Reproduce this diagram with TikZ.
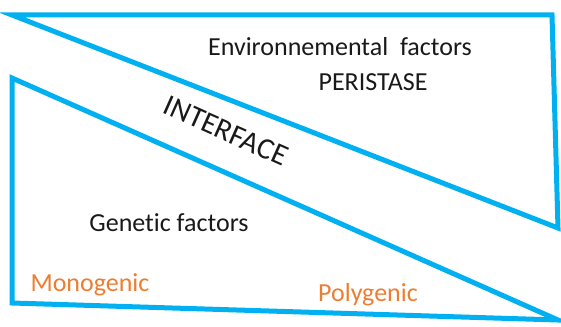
\documentclass[tikz,border=0pt]{standalone}
\usepackage{fontspec}
\setmainfont{Carlito}[Ligatures=NoCommon]
\definecolor{frameblue}{RGB}{0,176,240}
\definecolor{labelorange}{RGB}{237,125,49}

\begin{document}
\begin{tikzpicture}[x=1pt, y=-1pt,
    frame/.style={draw=frameblue, line width=5pt},
    label/.style={font=\fontsize{26}{28}\selectfont, text=black!90, inner sep=0pt, anchor=base},
    kind/.style={label, text=labelorange}]
  \useasboundingbox (0,0) rectangle (561,326);
  \coordinate (e1) at (12,15);
  \coordinate (e2) at (552,15);
  \coordinate (e3) at (558,228);
  \coordinate (g1) at (12,78);
  \coordinate (g2) at (558,320);
  \coordinate (g3) at (12,303);
  \draw [frame] (e1) -- (e2) -- (e3) -- cycle;
  \draw [frame] (g1) -- (g2) -- (g3) -- cycle;
  \node [label] (env) at (340,56) {Environnemental\ \ factors};
  \node [label] (peri) at (373,91) {PERISTASE};
  \node [label, font=\fontsize{30}{32}\selectfont, anchor=center, rotate=-24] (inter) at (226,131) {INTERFACE};
  \node [label] (gen) at (169,231) {Genetic factors};
  \node [kind] (mono) at (90,291) {Monogenic};
  \node [kind] (poly) at (368,301) {Polygenic};
\end{tikzpicture}
\end{document}
